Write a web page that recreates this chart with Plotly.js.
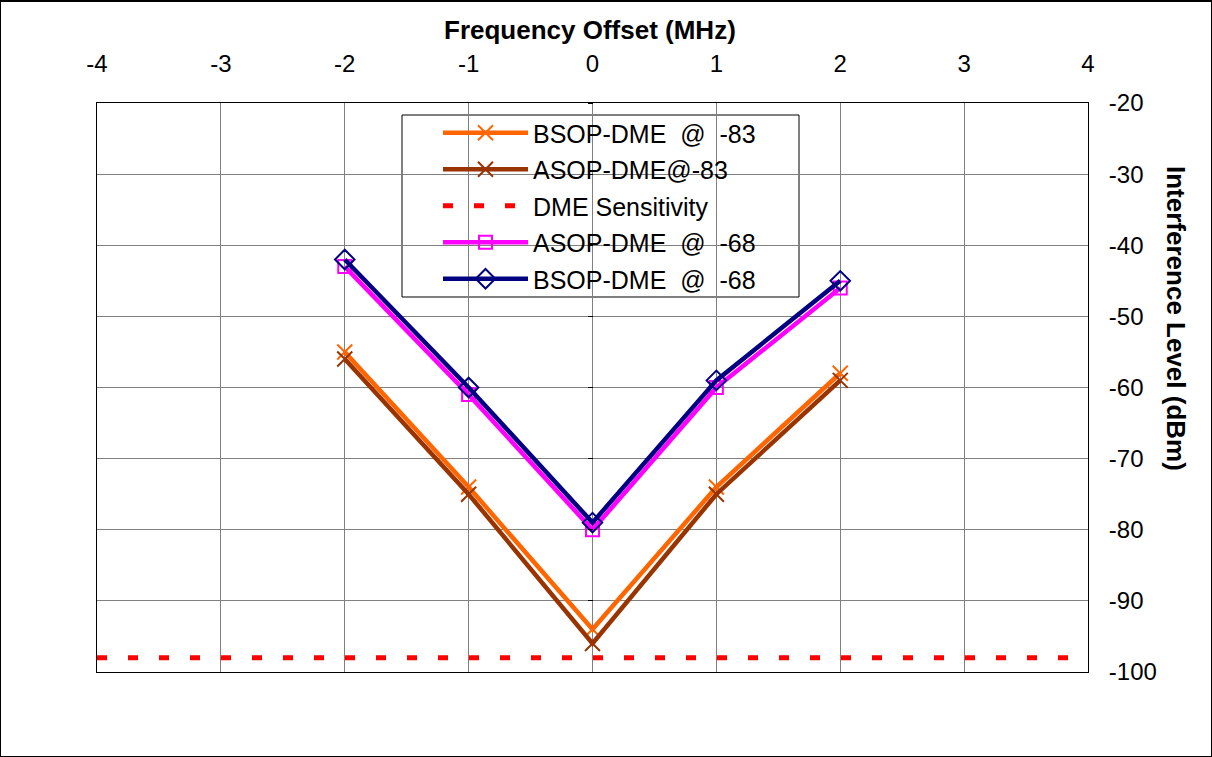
<!DOCTYPE html>
<html>
<head>
<meta charset="utf-8">
<script src="https://cdn.plot.ly/plotly-3.0.1.min.js"></script>
<style>
  html, body { margin: 0; padding: 0; background: #fff; }
  #wrap { position: relative; width: 1212px; height: 757px; }
  #chart { width: 1212px; height: 757px; }
  #frame { position: absolute; left: 0; top: 0; width: 1210px; border: 1px solid #000; border-top-width: 2px; height: 754px; pointer-events: none; }
</style>
</head>
<body>
<div id="wrap">
  <div id="chart"></div>
  <div id="frame"></div>
</div>
<script>
const offsets = [-2, -1, 0, 1, 2];
const bsop83 = [-55, -74, -94, -74, -58];
const asop83 = [-56, -75, -96, -75, -59];
const sensX = [-4, 4];
const sensY = [-98, -98];
const asop68 = [-43, -61, -80, -60, -46];
const bsop68 = [-42, -60, -79, -59, -45];
const xTicks = [-4, -3, -2, -1, 0, 1, 2, 3, 4];
const yTicks = [-20, -30, -40, -50, -60, -70, -80, -90, -100];
const names = ['BSOP-DME\u00A0\u00A0@\u00A0\u00A0-83', 'ASOP-DME@-83', 'DME Sensitivity',
               'ASOP-DME\u00A0\u00A0@\u00A0\u00A0-68', 'BSOP-DME\u00A0\u00A0@\u00A0\u00A0-68'];

const W = 1212, H = 757;
const L = 97, R = 1088, T = 103, B = 672;
const pw = R - L, ph = B - T;
const px = x => (x - L) / pw;
const py = y => 1 - (y - T) / ph;

const traces = [
  {x: offsets, y: bsop83, name: names[0], mode: 'lines+markers', legendgroup: 'a',
   line: {color: '#FF6600', width: 4.5}, marker: {symbol: 'x-thin-open', size: 15, color: '#FF6600', line: {color: '#FF6600', width: 2}}},
  {x: offsets, y: asop83, name: names[1], mode: 'lines+markers', legendgroup: 'b',
   line: {color: '#993300', width: 4.5}, marker: {symbol: 'x-thin-open', size: 15, color: '#993300', line: {color: '#993300', width: 2}}},
  {x: sensX, y: sensY, name: names[2], mode: 'lines', legendgroup: 'c',
   line: {color: '#FF0000', width: 5, dash: '10px,21px'}},
  {x: offsets, y: asop68, name: names[3], mode: 'lines+markers', legendgroup: 'd',
   line: {color: '#FF00FF', width: 4.5}, marker: {symbol: 'square-open', size: 13, color: '#FF00FF', line: {color: '#FF00FF', width: 2}}},
  {x: offsets, y: bsop68, name: names[4], mode: 'lines+markers', legendgroup: 'e',
   line: {color: '#000080', width: 4.5}, marker: {symbol: 'diamond-open', size: 15, color: '#000080', line: {color: '#000080', width: 2}}},
  {x: [0], y: [-20], yaxis: 'y2', mode: 'markers', showlegend: false, hoverinfo: 'skip', marker: {opacity: 0}}
];

const layout = {
  width: W, height: H,
  margin: {l: L, r: W - R, t: T, b: H - B, pad: 0},
  paper_bgcolor: '#fff', plot_bgcolor: '#fff',
  font: {family: 'Liberation Sans, Arial, sans-serif', color: '#000', size: 24},
  showlegend: true,
  xaxis: {
    side: 'top', range: [-4, 4], tickvals: xTicks, ticktext: xTicks.map(String),
    showgrid: true, gridcolor: '#808080', gridwidth: 1, zeroline: false,
    showline: true, linecolor: '#000', linewidth: 1, mirror: true,
    ticks: '', ticklabelstandoff: 20, tickfont: {size: 24}
  },
  yaxis: {
    side: 'right', range: [-100, -20], tickvals: yTicks, ticktext: yTicks.map(String),
    showgrid: true, gridcolor: '#808080', gridwidth: 1, zeroline: false,
    showline: true, linecolor: '#000', linewidth: 1, mirror: true,
    ticks: '', ticklabelstandoff: 15, tickfont: {size: 24}
  },
  yaxis2: {
    overlaying: 'y', anchor: 'free', position: 0.5, side: 'left', range: [-100, -20],
    tickvals: yTicks, showticklabels: false, ticks: 'outside', ticklen: 5, tickcolor: '#000', tickwidth: 1,
    showgrid: false, zeroline: false, showline: false
  },
  legend: {
    x: px(438), y: py(110), xanchor: 'left', yanchor: 'top',
    bgcolor: 'rgba(0,0,0,0)', borderwidth: 0,
    font: {size: 25, color: '#000'}, itemwidth: 85, tracegroupgap: 1,
    itemclick: false, itemdoubleclick: false
  },
  shapes: [
    {type: 'rect', xref: 'paper', yref: 'paper', x0: px(402), x1: px(799), y0: py(297), y1: py(115),
     line: {color: '#000', width: 1}, fillcolor: '#fff', layer: 'below'}
  ],
  annotations: [
    {text: '<b>Frequency Offset (MHz)</b>', xref: 'paper', yref: 'paper', x: px(590), y: py(30),
     xanchor: 'center', yanchor: 'middle', showarrow: false, font: {size: 26}},
    {text: '<b>Interference Level (dBm)</b>', xref: 'paper', yref: 'paper', x: px(1176), y: py(318),
     xanchor: 'center', yanchor: 'middle', textangle: 90, showarrow: false, font: {size: 26}}
  ]
};

Plotly.newPlot('chart', traces, layout, {displayModeBar: false, staticPlot: true});
</script>
</body>
</html>
